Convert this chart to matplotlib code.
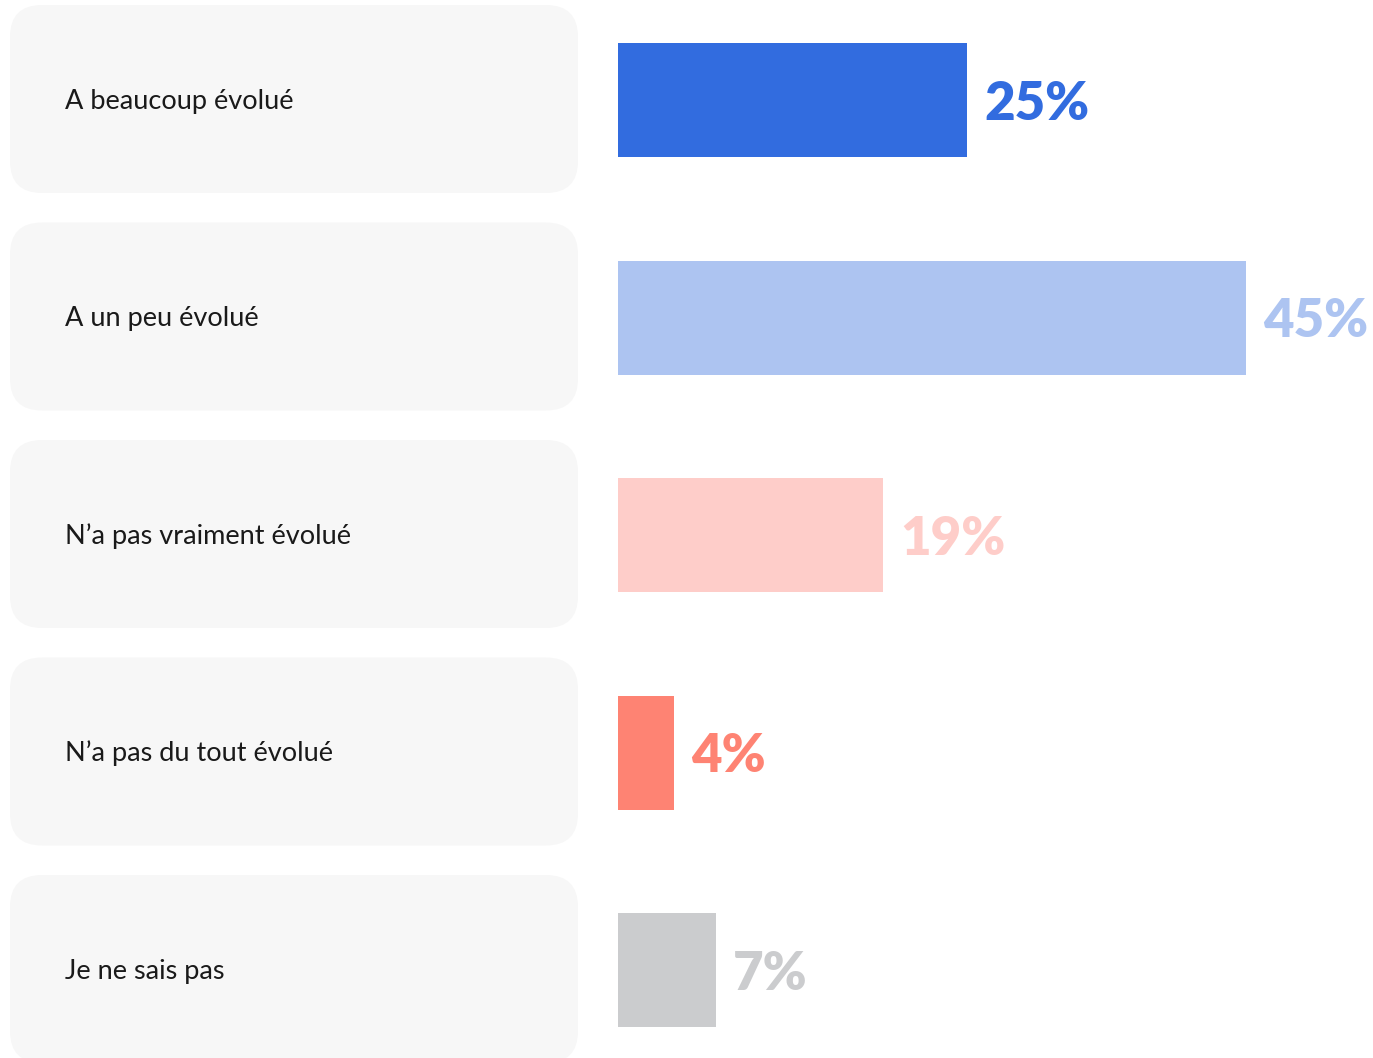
import matplotlib.pyplot as plt
from matplotlib.patches import FancyBboxPatch

categories = ["A beaucoup évolué", "A un peu évolué", "N’a pas vraiment évolué",
              "N’a pas du tout évolué", "Je ne sais pas"]
values = [25, 45, 19, 4, 7]
colors = ["#326CDF", "#ADC4F1", "#FECDC9", "#FE8373", "#CBCCCE"]

W, H = 1373, 1058
fig = plt.figure(figsize=(W / 100, H / 100), dpi=100)
fig.patch.set_facecolor("white")

# background label boxes, in pixel coordinates
ax_bg = fig.add_axes([0, 0, 1, 1])
ax_bg.set_xlim(0, W)
ax_bg.set_ylim(H, 0)
ax_bg.axis("off")

step = 217.5
for i, cat in enumerate(categories):
    top = 5 + step * i
    box = FancyBboxPatch((10, top), 568, 188,
                         boxstyle="round,pad=0,rounding_size=32",
                         facecolor="#F7F7F7", edgecolor="none")
    ax_bg.add_patch(box)
    ax_bg.text(65, top + 96, cat, fontsize=19.5, family="Lato",
               color="#1a1a1a", va="center", ha="left")

# bars
px_per_pct = 13.95
x0 = 618
ax = fig.add_axes([0, 0, 1, 1], facecolor="none")
ax.set_xlim(-x0 / px_per_pct, (W - x0) / px_per_pct)
ax.set_ylim((H - 100) / step, -100 / step)
ax.axis("off")

ypos = list(range(len(categories)))
ax.barh(ypos, values, height=114 / step, color=colors, align="center")
for y, v, c in zip(ypos, values, colors):
    ax.text(v + 1.25, y + 0.02, f"{v}%", fontsize=38, family="Lato",
            fontweight="heavy", color=c, va="center", ha="left")

fig.savefig("out.png", dpi=100)
